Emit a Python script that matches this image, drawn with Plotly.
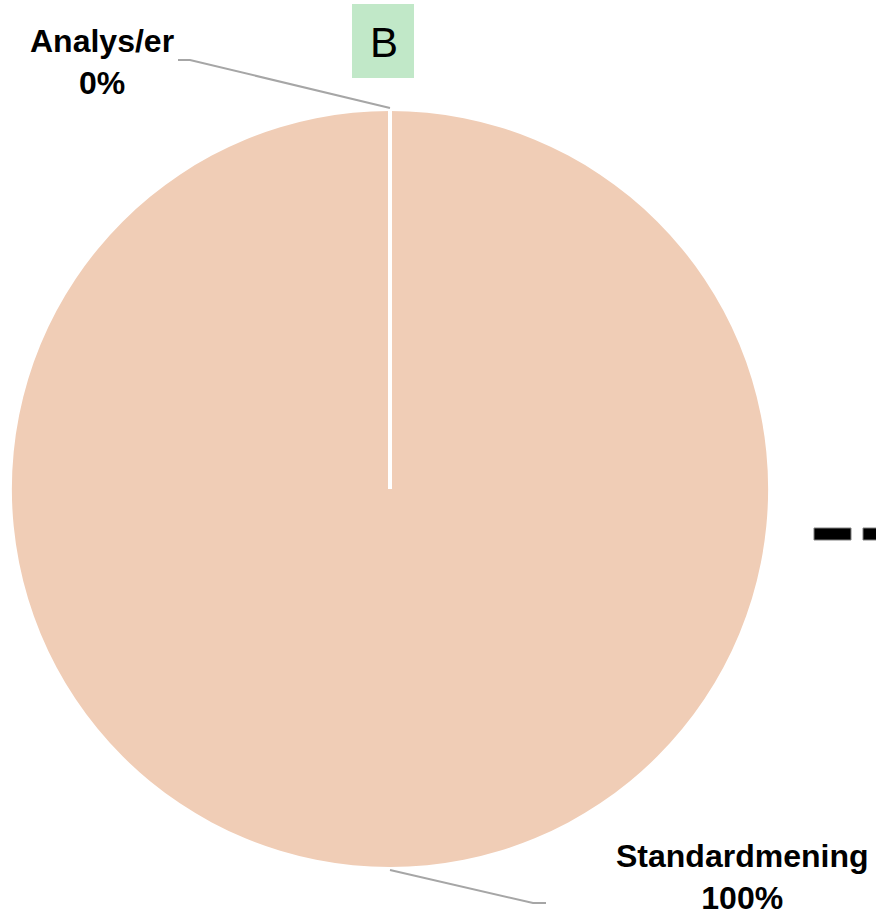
import math
import plotly.graph_objects as go

# Share of responses per category
labels = ["Analys/er", "Standardmening"]
values = [0, 100]
slice_color = "#F0CDB6"

W, H = 876, 916
CX, CY, R = 390, 489, 378  # pie centre and radius in pixels


def px(x):
    return x / W


def py(y):
    return 1 - y / H


total = sum(values)
pcts = [v / total * 100 for v in values]

fig = go.Figure()
fig.add_trace(go.Pie(
    labels=labels,
    values=values,
    sort=False,
    direction="clockwise",
    rotation=0,
    textinfo="none",
    hoverinfo="label+percent",
    marker=dict(colors=["#C9D9EE", slice_color], line=dict(width=0)),
    domain=dict(x=[px(CX - R), px(CX + R)], y=[py(CY + R), py(CY - R)]),
    showlegend=False,
))

shapes = []
annotations = []

# white slice boundaries (angle measured clockwise from 12 o'clock)
cum = 0.0
boundaries = []
for v in values:
    boundaries.append(cum / total * 360)
    cum += v
for ang in set(round(a, 6) % 360 for a in boundaries):
    t = math.radians(ang)
    shapes.append(dict(
        type="line", xref="paper", yref="paper",
        x0=px(CX), y0=py(CY),
        x1=px(CX + R * math.sin(t)), y1=py(CY - R * math.cos(t)),
        line=dict(color="white", width=4),
    ))

# label layout: leader-line elbow, horizontal stub end, label centre
label_pos = {
    "Analys/er": dict(elbow=(190, 60), stub=(178, 60), text=(102, 62)),
    "Standardmening": dict(elbow=(533, 903), stub=(546, 903), text=(742, 877)),
}

cum = 0.0
for lab, v, p in zip(labels, values, pcts):
    mid = (cum + v / 2) / total * 360
    cum += v
    t = math.radians(mid)
    sx = CX + (R + 3) * math.sin(t)
    sy = CY - (R + 3) * math.cos(t)
    pos = label_pos[lab]
    ex, ey = pos["elbow"]
    hx, hy = pos["stub"]
    shapes.append(dict(
        type="path", xref="paper", yref="paper",
        path=f"M {px(sx)},{py(sy)} L {px(ex)},{py(ey)} L {px(hx)},{py(hy)}",
        line=dict(color="#A6A6A6", width=2),
    ))
    tx, ty = pos["text"]
    annotations.append(dict(
        xref="paper", yref="paper", x=px(tx), y=py(ty),
        xanchor="center", yanchor="middle", showarrow=False,
        text=f"<b>{lab}<br>{p:.0f}%</b>",
        font=dict(family="Liberation Sans, Arial, sans-serif", size=32, color="black"),
    ))

# title badge
shapes.append(dict(
    type="rect", xref="paper", yref="paper",
    x0=px(352), x1=px(414), y0=py(78), y1=py(4),
    fillcolor="#C1E8C8", line=dict(width=0), layer="below",
))
annotations.append(dict(
    xref="paper", yref="paper", x=px(384), y=py(42),
    xanchor="center", yanchor="middle", showarrow=False,
    text="B", font=dict(family="Liberation Sans, Arial, sans-serif", size=42, color="black"),
))

# dashed connector stub on the right edge
for x0, x1 in [(814, 851), (863, 880)]:
    shapes.append(dict(
        type="rect", xref="paper", yref="paper",
        x0=px(x0), x1=px(x1), y0=py(540), y1=py(528),
        fillcolor="black", line=dict(color="#808080", width=1),
    ))

fig.update_layout(
    width=W, height=H,
    margin=dict(l=0, r=0, t=0, b=0),
    paper_bgcolor="white", plot_bgcolor="white",
    shapes=shapes, annotations=annotations,
)

fig.write_html("out.html")
